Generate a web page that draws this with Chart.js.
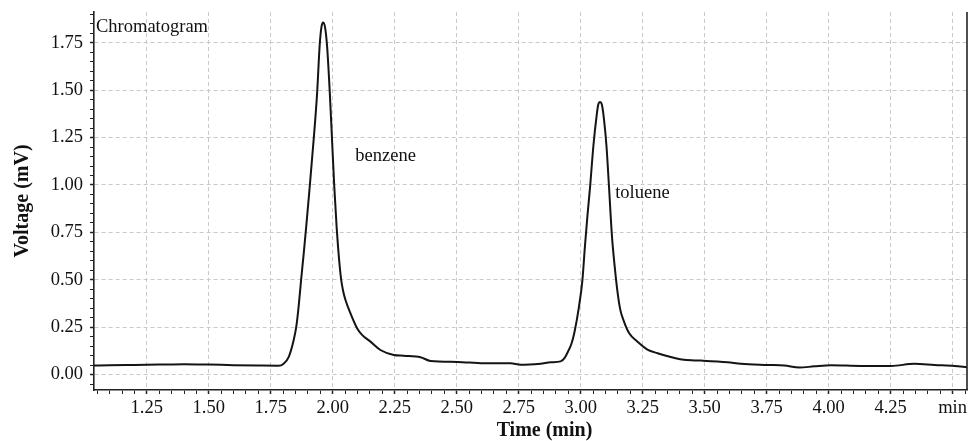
<!DOCTYPE html>
<html>
<head>
<meta charset="utf-8">
<script src="https://cdn.jsdelivr.net/npm/chart.js@4/dist/chart.umd.min.js"></script>
<style>
  html, body { margin: 0; padding: 0; background: #fff; }
  #wrap { width: 971px; height: 441px; position: relative; }
</style>
</head>
<body>
<div id="wrap"><canvas id="c" width="971" height="441"></canvas></div>
<script>
// ---- data ----
const times = [1.037, 1.10, 1.20, 1.30, 1.40, 1.50, 1.60, 1.70, 1.781, 1.802, 1.822, 1.842, 1.853, 1.862, 1.872, 1.883, 1.893, 1.905, 1.923, 1.937, 1.947, 1.954, 1.961, 1.969, 1.977, 1.988, 1.997, 2.006, 2.016, 2.026, 2.034, 2.042, 2.051, 2.071, 2.098, 2.118, 2.152, 2.192, 2.246, 2.286, 2.354, 2.394, 2.502, 2.609, 2.717, 2.758, 2.838, 2.879, 2.919, 2.936, 2.950, 2.962, 2.975, 2.993, 3.007, 3.017, 3.027, 3.038, 3.051, 3.064, 3.071, 3.078, 3.085, 3.094, 3.104, 3.114, 3.126, 3.137, 3.150, 3.160, 3.172, 3.195, 3.229, 3.269, 3.310, 3.363, 3.417, 3.485, 3.593, 3.646, 3.754, 3.821, 3.882, 3.942, 4.010, 4.131, 4.252, 4.346, 4.427, 4.508, 4.558];
const voltage = [0.048, 0.049, 0.051, 0.053, 0.055, 0.053, 0.050, 0.048, 0.047, 0.058, 0.092, 0.180, 0.254, 0.355, 0.495, 0.641, 0.782, 0.960, 1.240, 1.487, 1.733, 1.830, 1.856, 1.830, 1.733, 1.487, 1.240, 0.993, 0.770, 0.600, 0.500, 0.440, 0.395, 0.324, 0.245, 0.210, 0.174, 0.130, 0.104, 0.100, 0.092, 0.072, 0.067, 0.060, 0.060, 0.052, 0.058, 0.065, 0.070, 0.090, 0.125, 0.160, 0.225, 0.359, 0.500, 0.676, 0.835, 0.993, 1.204, 1.363, 1.425, 1.437, 1.425, 1.345, 1.204, 0.993, 0.730, 0.571, 0.420, 0.340, 0.289, 0.219, 0.174, 0.132, 0.113, 0.093, 0.078, 0.074, 0.065, 0.057, 0.051, 0.048, 0.037, 0.044, 0.050, 0.046, 0.046, 0.057, 0.051, 0.046, 0.039];

const xMajorTicks = [1.25, 1.50, 1.75, 2.00, 2.25, 2.50, 2.75, 3.00, 3.25, 3.50, 3.75, 4.00, 4.25, 4.50];
const xTickLabels = ['1.25', '1.50', '1.75', '2.00', '2.25', '2.50', '2.75', '3.00', '3.25', '3.50', '3.75', '4.00', '4.25', 'min'];
const yMajorTicks = [0.00, 0.25, 0.50, 0.75, 1.00, 1.25, 1.50, 1.75];
const yTickLabels = ['0.00', '0.25', '0.50', '0.75', '1.00', '1.25', '1.50', '1.75'];

const peakLabels = ['benzene', 'toluene'];
const peakLabelTimes = [2.091, 3.139];
const peakLabelVolts = [1.129, 0.932];

const chartTitle = 'Chromatogram';
const xTitle = 'Time (min)';
const yTitle = 'Voltage (mV)';

const xRange = [1.037, 4.558];
const yRange = [-0.081, 1.912];
const minorStep = 0.05;

// ---- helpers ----
function majorIndex(v, arr) { return arr.findIndex(m => Math.abs(m - v) < 1e-6); }
const points = times.map((t, i) => ({ x: t, y: voltage[i] }));

const SERIF = '"Liberation Serif", "Times New Roman", "DejaVu Serif", serif';
const GRID = '#c9c9c9';
const AXIS = '#222';

const overlay = {
  id: 'overlay',
  afterDraw(chart) {
    const { ctx, chartArea: a, scales } = chart;
    ctx.save();
    // right frame line
    ctx.strokeStyle = AXIS;
    ctx.lineWidth = 1.6;
    ctx.beginPath();
    ctx.moveTo(a.right, a.top);
    ctx.lineTo(a.right, a.bottom);
    ctx.stroke();
    // in-plot title
    ctx.fillStyle = '#111';
    ctx.font = '18.5px ' + SERIF;
    ctx.textAlign = 'left';
    ctx.textBaseline = 'alphabetic';
    ctx.fillText(chartTitle, a.left + 2, a.top + 20);
    // peak labels at data positions
    peakLabels.forEach((txt, i) => {
      const px = scales.x.getPixelForValue(peakLabelTimes[i]);
      const py = scales.y.getPixelForValue(peakLabelVolts[i]);
      ctx.fillText(txt, px, py);
    });
    // x axis title
    ctx.font = 'bold 20px ' + SERIF;
    ctx.textAlign = 'center';
    ctx.textBaseline = 'middle';
    ctx.fillText(xTitle, (a.left + a.right) / 2 + 14, 431);
    ctx.restore();
  }
};

new Chart(document.getElementById('c'), {
  type: 'scatter',
  data: {
    datasets: [{
      data: points,
      showLine: true,
      borderColor: '#141414',
      borderWidth: 2,
      pointRadius: 0,
      pointHoverRadius: 0,
      cubicInterpolationMode: 'monotone',
      fill: false
    }]
  },
  options: {
    responsive: false,
    animation: false,
    devicePixelRatio: 1,
    layout: { padding: { left: 0, right: 4, top: 12, bottom: 0 } },
    plugins: { legend: { display: false }, tooltip: { enabled: false }, title: { display: false } },
    scales: {
      x: {
        type: 'linear',
        min: xRange[0],
        max: xRange[1],
        afterFit(s) { s.height = 51; s.paddingLeft = 0; s.paddingRight = 0; },
        ticks: {
          stepSize: minorStep,
          autoSkip: false,
          includeBounds: false,
          maxRotation: 0,
          minRotation: 0,
          padding: 3,
          color: '#111',
          font: { family: SERIF, size: 18.5 },
          callback(v) { const i = majorIndex(v, xMajorTicks); return i >= 0 ? xTickLabels[i] : ''; }
        },
        grid: {
          color: c => (c.tick && majorIndex(c.tick.value, xMajorTicks) >= 0) ? GRID : 'rgba(0,0,0,0)',
          lineWidth: 1,
          drawTicks: true,
          tickLength: 4,
          tickColor: AXIS,
          tickWidth: c => (c.tick && majorIndex(c.tick.value, xMajorTicks) >= 0) ? 1.5 : 1,
          tickBorderDash: []
        },
        border: { display: true, color: AXIS, width: 1.6, dash: [4, 3] },
        title: { display: false }
      },
      y: {
        type: 'linear',
        min: yRange[0],
        max: yRange[1],
        afterFit(s) { s.width = 94; s.paddingTop = 0; s.paddingBottom = 0; },
        ticks: {
          stepSize: minorStep,
          autoSkip: false,
          includeBounds: false,
          padding: 7,
          color: '#111',
          font: { family: SERIF, size: 18.5 },
          callback(v) { const i = majorIndex(v, yMajorTicks); return i >= 0 ? yTickLabels[i] : ''; }
        },
        grid: {
          color: c => (c.tick && majorIndex(c.tick.value, yMajorTicks) >= 0) ? GRID : 'rgba(0,0,0,0)',
          lineWidth: 1,
          drawTicks: true,
          tickLength: 4,
          tickColor: AXIS,
          tickWidth: c => (c.tick && majorIndex(c.tick.value, yMajorTicks) >= 0) ? 1.5 : 1,
          tickBorderDash: []
        },
        border: { display: true, color: AXIS, width: 1.6, dash: [4, 3] },
        title: {
          display: true,
          text: yTitle,
          color: '#111',
          font: { family: SERIF, size: 20, weight: 'bold', lineHeight: 1 },
          padding: { top: 13, bottom: 0 }
        }
      }
    }
  },
  plugins: [overlay]
});
</script>
</body>
</html>
